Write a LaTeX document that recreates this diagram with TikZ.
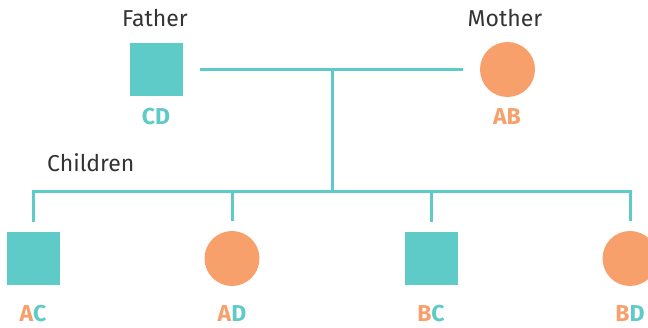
\documentclass[tikz,border=0pt]{standalone}
\usepackage{fontspec}
\setmainfont{Fira Sans}
\definecolor{tealc}{HTML}{5FCBC9}
\definecolor{orangec}{HTML}{F8A06C}
\definecolor{textc}{HTML}{333333}
\begin{document}
\begin{tikzpicture}[x=1pt,y=-1pt,
  male/.style={rectangle,fill=tealc,minimum size=53pt,inner sep=0pt},
  female/.style={circle,fill=orangec,minimum size=55pt,inner sep=0pt},
  role/.style={anchor=base,text=textc,font=\fontsize{23}{26}\selectfont,inner sep=0pt},
  geno/.style={anchor=base,font=\fontsize{23}{26}\selectfont\bfseries,inner sep=0pt},
  link/.style={draw=tealc,line width=3pt}]
\useasboundingbox (0,0) rectangle (648,328);
% parents
\node[male] (father) at (156.5,69.5) {};
\node[female] (mother) at (507.5,69.5) {};
\node[role] (fatherlbl) at (155,27) {Father};
\node[role] (motherlbl) at (505,27) {Mother};
\node[geno,text=tealc] (cd) at (156,125) {CD};
\node[geno,text=orangec] (ab) at (507,125) {AB};
% children
\node[male] (c1) at (33.5,258.5) {};
\node[female] (c2) at (232,258.5) {};
\node[male] (c3) at (431.5,258.5) {};
\node[female] (c4) at (630,258.5) {};
\node[role,anchor=base west] (childlbl) at (47,172) {Children};
\node[geno] (g1) at (33,322) {\textcolor{orangec}{A}\textcolor{tealc}{C}};
\node[geno] (g2) at (232,322) {\textcolor{orangec}{A}\textcolor{tealc}{D}};
\node[geno] (g3) at (431,322) {\textcolor{orangec}{B}\textcolor{tealc}{C}};
\node[geno] (g4) at (630,322) {\textcolor{orangec}{B}\textcolor{tealc}{D}};
% connectors
\coordinate (mid) at (332.5,69.5);
\coordinate (sib) at (332.5,192);
\path[link] ([xshift=17pt]father.east) -- ([xshift=-17pt]mother.west);
\path[link] (mid) -- (sib);
\path[link] ([yshift=10pt]c1.north) |- (sib) -| ([yshift=10pt]c4.north);
\path[link] ([yshift=10pt]c2.north) -- (c2.north |- sib);
\path[link] ([yshift=10pt]c3.north) -- (c3.north |- sib);
\end{tikzpicture}
\end{document}
